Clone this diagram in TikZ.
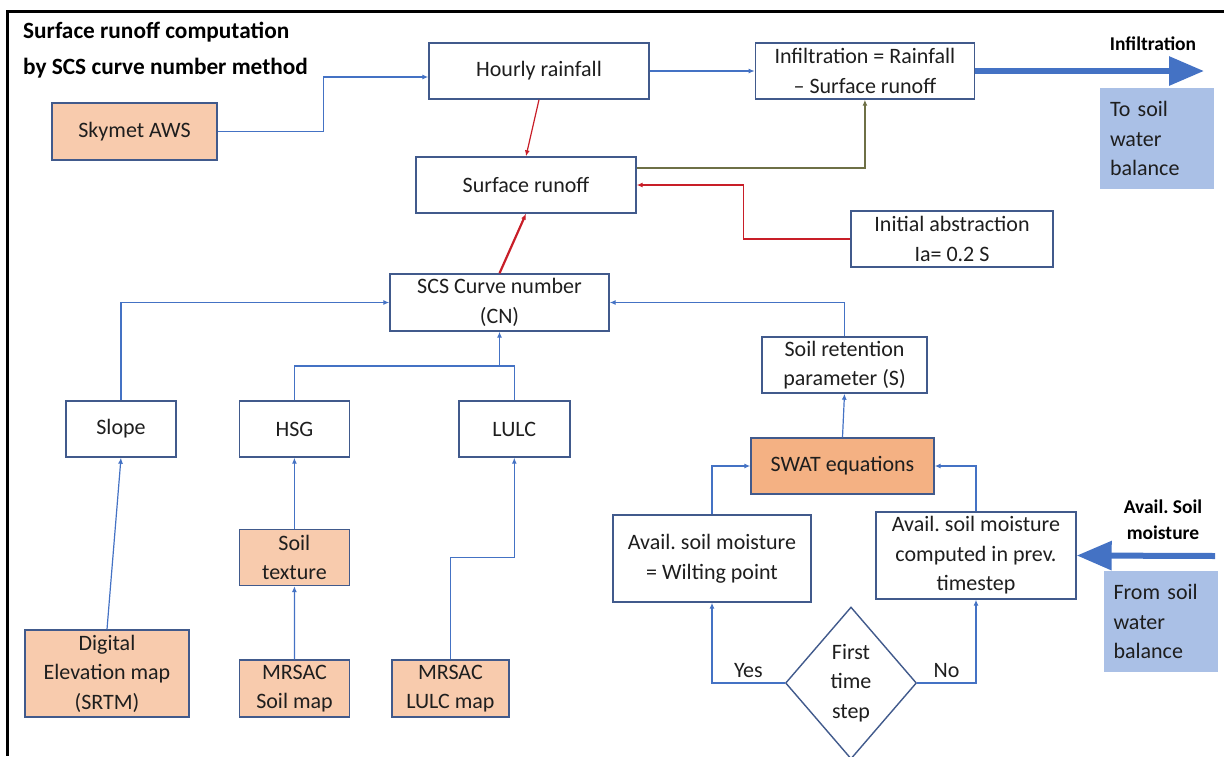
\documentclass[tikz,border=0pt]{standalone}
\usepackage{fontspec}
\setmainfont{Carlito}
\usetikzlibrary{arrows.meta,positioning,shapes.geometric}
\frenchspacing

\definecolor{boxline}{RGB}{65,90,140}
\definecolor{linkblue}{RGB}{68,114,196}
\definecolor{peach}{RGB}{248,203,173}
\definecolor{swatorange}{RGB}{244,177,131}
\definecolor{paleblue}{RGB}{170,192,230}
\definecolor{runred}{RGB}{200,30,40}
\definecolor{olivegray}{RGB}{110,112,70}
\definecolor{textgray}{RGB}{30,30,30}

\newcommand{\boxfont}{\fontsize{22}{29.5}\selectfont}
\newcommand{\tagfont}{\fontsize{19.5}{26}\selectfont\bfseries}
\newcommand{\titlefont}{\fontsize{23.3}{36}\selectfont\bfseries}

\begin{document}
\begin{tikzpicture}[x=1pt,y=-1pt,>={Latex[length=6pt,width=5pt]},
    box/.style={draw=boxline,line width=1.4pt,fill=white,text=textgray,
      font=\boxfont,align=center,inner sep=1pt},
    data/.style={box,fill=peach},
    sidebox/.style={fill=paleblue,text=textgray,font=\boxfont,align=left,
      text width=94pt,inner xsep=10pt,minimum height=101pt},
    link/.style={draw=linkblue,line width=1.2pt},
    red link/.style={draw=runred,line width=1.2pt},
    bigarrow/.style={draw=linkblue,line width=6pt,-{Triangle[length=35pt,width=28pt]}}]
    \useasboundingbox (0,0) rectangle (1224,756);
    \draw[line width=3pt] (1224,11) -- (7,11) -- (7,756);

    \node[anchor=west,font=\titlefont,align=left,inner sep=0pt] (title) at (23,50)
      {Surface runoff computation\\by SCS curve number method};

    % rainfall and runoff
    \node[data,minimum width=165pt,minimum height=57pt] (sky) at (134.5,131.5) {Skymet AWS};
    \node[box,minimum width=220pt,minimum height=56pt] (hourly) at (539,71) {Hourly rainfall};
    \node[box,right=105pt of hourly,minimum width=219pt,minimum height=56pt] (infil)
      {Infiltration = Rainfall\\– Surface runoff};
    \node[box,minimum width=220pt,minimum height=56pt] (runoff) at (526,185) {Surface runoff};
    \node[box,minimum width=202pt,minimum height=56pt] (abstr) at (952,239)
      {Initial abstraction\\Ia= 0.2 S};
    \node[box,minimum width=219pt,minimum height=57pt] (scs) at (499.5,302.5)
      {SCS Curve number\\(CN)};
    \node[box,minimum width=165pt,minimum height=56pt] (retent) at (844.5,365)
      {Soil retention\\parameter (S)};

    % curve number inputs
    \node[box,minimum width=110pt,minimum height=56pt] (slope) at (121,429) {Slope};
    \node[box,right=62pt of slope,minimum width=110pt,minimum height=56pt] (hsg) {HSG};
    \node[box,right=108pt of hsg,minimum width=111pt,minimum height=56pt] (lulc) {LULC};
    \node[data,below=71pt of hsg,minimum width=110pt,minimum height=56pt] (soiltex)
      {Soil\\texture};
    \node[data,minimum width=164pt,minimum height=87pt] (dem) at (107,673.5)
      {Digital\\Elevation map\\(SRTM)};
    \node[data,minimum width=110pt,minimum height=57pt] (mrsoil) at (294.5,688.5)
      {MRSAC\\Soil map};
    \node[data,right=41pt of mrsoil,minimum width=117pt,minimum height=57pt] (mrlulc)
      {MRSAC\\LULC map};

    % soil moisture
    \node[box,fill=swatorange,minimum width=183pt,minimum height=56pt] (swat) at (842.5,466)
      {SWAT equations};
    \node[box,minimum width=198pt,minimum height=87pt] (wilt) at (712,558.5)
      {Avail. soil moisture\\= Wilting point};
    \node[box,minimum width=200pt,minimum height=87pt] (prev) at (976,555.5)
      {Avail. soil moisture\\computed in prev.\\timestep};
    \node[box,diamond,minimum width=131pt,minimum height=152pt,inner sep=0pt] (first)
      at (851,683) {First\\time\\step};

    % water balance links
    \node[sidebox] (toswb) at (1157,138.5) {To soil\\water\\balance};
    \node[sidebox] (fromswb) at (1160.5,621.5) {From soil\\water\\balance};
    \node[font=\tagfont] (inflab) at (1153,44) {Infiltration};
    \node[font=\tagfont,align=center] (availlab) at (1163,520) {Avail. Soil\\moisture};
    \coordinate (infiltip) at (1204,71);
    \coordinate (availtail) at (1215,556);
    \draw[bigarrow] (infil.east) -- (infiltip);
    \draw[bigarrow] (availtail) -- (prev.east);

    \draw[->,link] (sky.east) -- ++(106,0) |- ([yshift=-6pt]hourly.west);
    \draw[->,link] (hourly) -- (infil);
    \draw[->,red link] (hourly.south) -- (runoff.north);
    \draw[->,draw=olivegray,line width=1.2pt] ([yshift=17pt]runoff.east) -| (infil.south);
    \draw[->,red link] (abstr.west) -- ++(-107,0) |- (runoff.east);
    \draw[->,red link,line width=2.2pt] (scs.north) -- (runoff.south);

    \coordinate (jn) at (499.5,366);
    \draw[->,link] (slope.north) |- (scs.west);
    \draw[link] (hsg.north) |- (jn) -| (lulc.north);
    \draw[->,link] (jn) -- (scs.south);
    \draw[->,link] (dem.north) -- (slope.south);
    \draw[->,link] (soiltex.north) -- (hsg.south);
    \draw[->,link] (mrsoil.north) -- (soiltex.south);
    \draw[->,link] (mrlulc.north) -- ++(0,-102) -| (lulc.south);
    \draw[->,link] (retent.north) |- (scs.east);
    \draw[->,link] (swat.north) -- (retent.south);
    \draw[->,link] (wilt.north) |- (swat.west);
    \draw[->,link] (prev.north) |- (swat.east);
    \draw[->,link] (first.west) -| node[pos=0.25,above=1pt,font=\boxfont,text=textgray] (yes) {Yes}
      (wilt.south);
    \draw[->,link] (first.east) -| node[pos=0.25,above=1pt,font=\boxfont,text=textgray] (no) {No}
      (prev.south);
  \end{tikzpicture}
\end{document}
